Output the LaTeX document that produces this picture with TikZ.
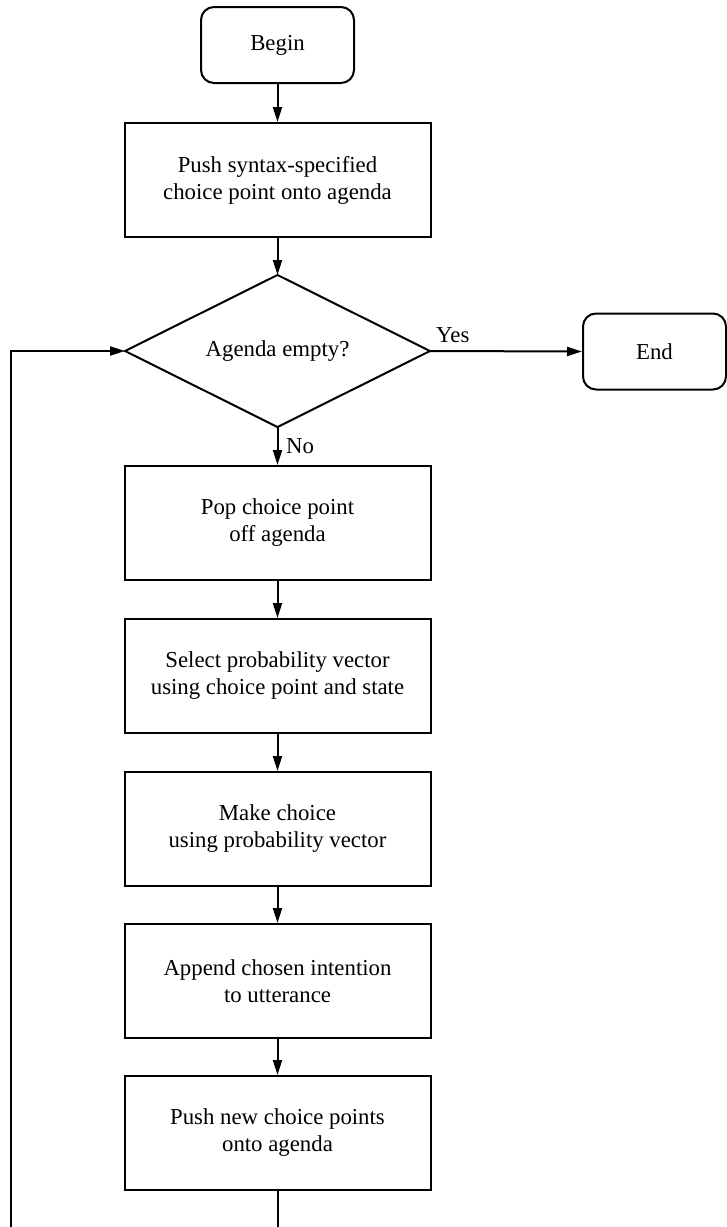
\documentclass[tikz,border=0pt]{standalone}
\usepackage{fontspec}
\setmainfont{Liberation Serif}
\usetikzlibrary{arrows.meta}
\begin{document}
\begin{tikzpicture}[x=1pt,y=-1pt,
  every node/.style={font=\fontsize{22.8}{27}\selectfont},
  lw/.style={line width=2pt},
  procbox/.style={lw,draw,rectangle,minimum width=306pt,minimum height=114pt,inner sep=0pt,align=center},
  termbox/.style={lw,draw,rectangle,rounded corners=13pt,minimum height=76pt,inner sep=0pt,align=center},
  decbox/.style={rectangle,minimum width=305pt,minimum height=152pt,inner sep=0pt,outer sep=0pt,align=center},
  flow/.style={lw,-{Triangle[length=15pt,width=9pt]}},
  lbl/.style={anchor=base west,inner sep=0pt}
]
\useasboundingbox (0,0) rectangle (727,1227);
\clip (0,0) rectangle (727,1227);
\node[termbox,minimum width=153pt] (begin) at (277.5,45) {Begin};
\node[procbox] (push1) at (277.5,180) {Push syntax-specified\\choice point onto agenda};
\node[decbox] (dia) at (277.5,351) {Agenda empty?};
\draw[lw,line join=miter] (dia.north) -- (dia.east) -- (dia.south) -- (dia.west) -- cycle;
\node[termbox,minimum width=143pt] (end) at (654.5,351.5) {End};
\node[procbox] (pop) at (277.5,523) {Pop choice point\\off agenda};
\node[procbox] (sel) at (277.5,676) {Select probability vector\\using choice point and state};
\node[procbox] (make) at (277.5,829) {Make choice\\using probability vector};
\node[procbox] (app) at (277.5,981) {Append chosen intention\\to utterance};
\node[procbox] (pushn) at (277.5,1133) {Push new choice points\\onto agenda};
\node[lbl] (yes) at ([shift={(6,-9)}]dia.east) {Yes};
\node[lbl] (no) at ([shift={(8.5,26)}]dia.south) {No};
\coordinate (loopb) at (11,1260);
\draw[flow] (begin) -- (push1);
\draw[flow] (push1) -- (dia.north);
\draw[flow] (dia.east) -- (end.west);
\draw[flow] (dia.south) -- (pop);
\draw[flow] (pop) -- (sel);
\draw[flow] (sel) -- (make);
\draw[flow] (make) -- (app);
\draw[flow] (app) -- (pushn);
\draw[flow] (pushn.south) |- (loopb) |- (dia.west);
\end{tikzpicture}
\end{document}
